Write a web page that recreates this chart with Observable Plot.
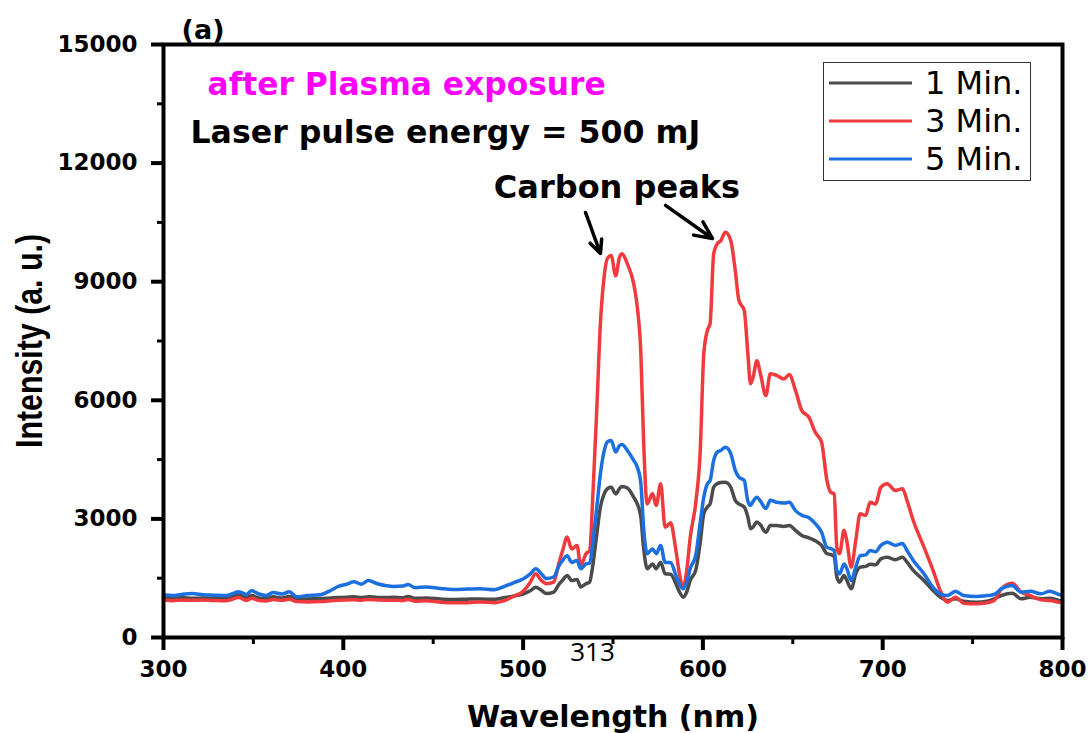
<!DOCTYPE html>
<html><head><meta charset="utf-8">
<script src="https://cdn.jsdelivr.net/npm/d3@7"></script>
<script src="https://cdn.jsdelivr.net/npm/@observablehq/plot@0.6"></script>
<style>
body{margin:0;background:#fff;}
#wrap{position:relative;width:1090px;height:733px;overflow:hidden;background:#fff;}
#legend{position:absolute;left:823px;top:62px;}
</style></head><body><div id="wrap"></div>
<script>
const wavelength = [300,305,310,316,322,328,335,342,346,349,
353,357,361,366,370,374,380,387,393,397,
402,406,410,414,419,424,428,433,436,440,
446,454,461,469,476,484,490,495,500,504,
507,510,513,517,520,522,524.5,527,530,532,
535,537,539,541,543,545,547,549,551.5,553.5,
555,558,561.5,563.5,565.5,567,569,572,574,576.5,
579,582,585,587,589,591,593,596,598.5,600.5,
602.5,604,606,608,610,612.5,615.5,618,620,623,
625,626.5,628,630,632,635,637.5,641,645,648,
651.5,655,659,662.5,666,669,671,673,674.5,676,
678.5,680,682.5,685,687.5,690.5,693,696,699,702.5,
707,711,713.5,717,723,728,732,736,740.5,745,
752,758,762,766,772,777,782,788,793,798,
800];
const min1 = [1000,990,1010,990,1000,990,985,1080,1000,1060,
1000,985,1030,1000,1040,980,975,985,1000,1010,
1020,1030,1010,1030,1015,1010,1020,1005,1040,990,
1000,975,960,970,975,965,1010,1050,1100,1180,
1270,1200,1110,1150,1350,1450,1570,1440,1470,1280,
1360,1400,1900,2620,3300,3620,3770,3800,3630,3760,
3820,3780,3550,3380,3040,2280,1740,1860,1740,1900,
1610,1600,1360,1150,1020,1150,1450,1700,2400,3130,
3300,3380,3800,3890,3920,3930,3800,3470,3380,3300,
3050,2750,2800,2920,2850,2660,2830,2830,2810,2830,
2710,2580,2520,2450,2330,2120,2100,2050,1530,1400,
1570,1450,1230,1610,1780,1800,1850,1840,1990,2030,
1965,2030,1905,1695,1440,1190,1020,936,978,919,
894,920,978,1062,1122,978,1020,978,990,936,
920];
const min3 = [950,930,950,940,950,935,930,1010,940,990,
935,925,960,940,970,910,900,910,930,945,
950,955,945,960,950,940,945,935,960,920,
930,895,880,880,900,880,940,1050,1170,1400,
1610,1450,1360,1400,1900,2200,2540,2240,2330,1820,
2120,2200,3800,5800,7940,9100,9600,9660,9150,9600,
9710,9450,8950,8360,7180,5000,3380,3640,3340,3890,
2790,2900,2200,1600,1260,1700,2550,3400,4700,7180,
7770,7940,9710,9960,10040,10250,10040,9280,8530,8270,
7180,6420,6600,7000,6670,6120,6670,6630,6540,6650,
6250,5740,5570,5190,4940,3970,3680,3630,2280,2120,
2710,2450,1780,2450,3130,3090,3420,3380,3800,3890,
3720,3760,3470,2960,2280,1700,1190,894,1020,868,
852,880,936,1231,1374,1147,1062,953,936,894,
880];
const min5 = [1080,1060,1090,1110,1080,1070,1060,1160,1090,1180,
1100,1060,1140,1100,1160,1030,1060,1080,1190,1290,
1350,1410,1350,1440,1360,1310,1290,1300,1340,1260,
1280,1240,1215,1225,1235,1210,1300,1390,1480,1610,
1740,1620,1490,1530,1820,1950,2070,1900,1950,1740,
1860,1880,2500,3300,4140,4700,4950,4980,4690,4850,
4880,4730,4480,4310,3890,2790,2120,2240,2120,2330,
1900,1900,1570,1350,1230,1400,1750,2080,2900,3550,
3890,3970,4480,4690,4730,4810,4650,4230,4060,3970,
3450,3340,3450,3550,3450,3260,3470,3420,3400,3420,
3210,3090,3030,2880,2660,2280,2250,2200,1700,1610,
1860,1750,1440,1780,2070,2090,2200,2170,2330,2410,
2330,2380,2200,1950,1610,1270,1105,1062,1172,1062,
1037,1060,1088,1231,1315,1147,1172,1105,1172,1088,
1070];

const seriesNames = ["1 Min.", "3 Min.", "5 Min."];
const seriesColors = ["#4b4b4b", "#f03a3d", "#1b6fde"];
const yTicks = [0, 3000, 6000, 9000, 12000, 15000];
const yMinorTicks = [1500, 4500, 7500, 10500, 13500];
const xTicks = [300, 400, 500, 600, 700, 800];
const xMinorTicks = [350, 450, 550, 650, 750];

const annotationText = ["(a)", "after Plasma exposure", "Laser pulse energy = 500 mJ", "Carbon peaks", "313"];
const annotationX = [322, 324.5, 315, 552.2, 538.6];
const annotationY = [15355, 13964, 12775, 11384, -379];

const arrowX1 = [534.7, 579.2];
const arrowY1 = [10752, 10929];
const arrowX2 = [543.0, 605.3];
const arrowY2 = [9714, 10093];

const seriesValues = [min1, min3, min5];
const rows = [];
seriesValues.forEach((vals, s) => {
  vals.forEach((v, i) => rows.push({nm: wavelength[i], v, series: seriesNames[s]}));
});
const arrows = arrowX1.map((_, i) => ({x1: arrowX1[i], y1: arrowY1[i], x2: arrowX2[i], y2: arrowY2[i]}));

const bold = "DejaVu Sans";
function note(i, opts) {
  return Plot.text([i], Object.assign({
    x: d => annotationX[d], y: d => annotationY[d], text: d => annotationText[d],
    fontFamily: bold, fontWeight: "bold", lineAnchor: "middle", clip: false
  }, opts));
}

const yLabel = "Intensity (a. u.)";
const chart = Plot.plot({
  width: 1090, height: 733,
  marginLeft: 163, marginRight: 28, marginTop: 44, marginBottom: 96,
  style: {fontFamily: "DejaVu Sans", background: "#fff", color: "#000"},
  x: {domain: [300, 800]},
  y: {domain: [0, 15000]},
  color: {domain: seriesNames, range: seriesColors},
  marks: [
    Plot.line(rows, {x: "nm", y: "v", z: "series", stroke: "series", strokeWidth: 3.5, curve: "monotone-x"}),
    Plot.axisY({ticks: yTicks, tickSize: 12, tickPadding: 14, strokeWidth: 4, fontSize: 23, fontWeight: "bold", label: null, tickFormat: d => String(d)}),
    Plot.axisY({ticks: yMinorTicks, tickSize: 6, strokeWidth: 3, text: null, label: null}),
    Plot.axisX({ticks: xTicks, tickSize: 13, tickPadding: 10, strokeWidth: 4, fontSize: 23, fontWeight: "bold", label: null}),
    Plot.axisX({ticks: xMinorTicks, tickSize: 7, strokeWidth: 3, text: null, label: null}),
    Plot.frame({stroke: "#000", strokeWidth: 4}),
    Plot.arrow(arrows, {x1: "x1", y1: "y1", x2: "x2", y2: "y2", stroke: "#000", strokeWidth: 3.5, headLength: 16, headAngle: 50}),
    note(0, {fontSize: 27}),
    note(1, {fontSize: 31.3, fill: "#ff00ff", textAnchor: "start"}),
    note(2, {fontSize: 31.6, fill: "#000", textAnchor: "start"}),
    note(3, {fontSize: 32, fill: "#000"}),
    note(4, {fontSize: 26, fontWeight: "normal", fontFamily: "Open Sans", fill: "#000"}),
    Plot.text(["Wavelength (nm)"], {frameAnchor: "bottom", dy: 80, text: d => d, fontSize: 30, fontWeight: "bold", fontFamily: bold, lineAnchor: "middle"}),
    Plot.text([yLabel], {frameAnchor: "left", dx: -133, rotate: -90, textAnchor: "middle", text: d => d, fontSize: 37, fontWeight: "bold", fontFamily: "Liberation Sans", lineAnchor: "middle"})
  ]
});
// condense the rotated y label (original looks horizontally squeezed text)
d3.select(chart).selectAll("text").filter(function() { return this.textContent === yLabel; })
  .each(function() {
    const t = this.getAttribute("transform") || "";
    this.setAttribute("transform", t + " scale(0.82,1)");
  });
const wrap = document.getElementById("wrap");
wrap.appendChild(chart);

// legend
const lg = d3.select(wrap).append("svg").attr("id", "legend").attr("width", 208).attr("height", 119);
lg.append("rect").attr("x", 0.5).attr("y", 0.5).attr("width", 207).attr("height", 118).attr("fill", "#fff").attr("stroke", "#333").attr("stroke-width", 1);
seriesNames.forEach((name, i) => {
  const cy = 21 + i * 38;
  lg.append("line").attr("x1", 6).attr("x2", 89).attr("y1", cy).attr("y2", cy).attr("stroke", seriesColors[i]).attr("stroke-width", 3);
  lg.append("text").attr("x", 102).attr("y", cy).attr("dy", "0.35em").attr("font-family", "DejaVu Sans").attr("font-size", 32).text(name);
});
</script></body></html>
